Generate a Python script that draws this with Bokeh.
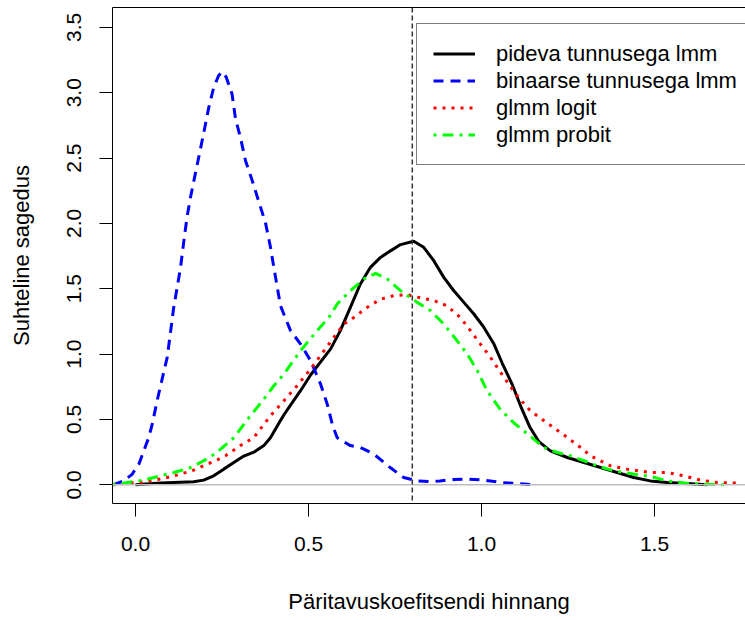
from bokeh.plotting import figure
from bokeh.models import (Range1d, FixedTicker, PrintfTickFormatter, Span, Legend,
                          LegendItem, LinearAxis)
from bokeh.embed import file_html
from bokeh.resources import INLINE

# ---- data ----
pideva_x = [0.0, 0.072, 0.168, 0.197, 0.226, 0.255, 0.284, 0.313, 0.342, 0.371, 0.39, 0.414,
            0.43, 0.448, 0.477, 0.506, 0.535, 0.564, 0.592, 0.621, 0.65, 0.679, 0.708, 0.737,
            0.766, 0.804, 0.833, 0.862, 0.891, 0.92, 0.949, 0.978, 1.007, 1.036, 1.06, 1.09,
            1.115, 1.14, 1.166, 1.199, 1.248, 1.296, 1.344, 1.392, 1.44, 1.488, 1.537, 1.594, 1.652]
pideva_y = [0.0, 0.013, 0.023, 0.036, 0.069, 0.12, 0.17, 0.22, 0.25, 0.30, 0.36, 0.47,
            0.54, 0.61, 0.72, 0.84, 0.94, 1.04, 1.18, 1.357, 1.537, 1.664, 1.74, 1.79,
            1.838, 1.863, 1.817, 1.715, 1.587, 1.485, 1.396, 1.307, 1.204, 1.077, 0.93, 0.76,
            0.59, 0.44, 0.33, 0.26, 0.209, 0.171, 0.132, 0.094, 0.056, 0.03, 0.018, 0.01, 0.0]

binaarse_x = [-0.066, -0.034, -0.01, 0.01, 0.024, 0.038, 0.048, 0.063, 0.092, 0.11, 0.13, 0.14,
              0.149, 0.159, 0.169, 0.183, 0.197, 0.212, 0.226, 0.24, 0.25, 0.262, 0.279, 0.289,
              0.303, 0.318, 0.337, 0.356, 0.376, 0.39, 0.40, 0.419, 0.448, 0.477, 0.506, 0.535,
              0.554, 0.57, 0.583, 0.621, 0.65, 0.689, 0.737, 0.775, 0.814, 0.85, 0.88, 0.92,
              0.959, 1.007, 1.055, 1.10, 1.15]
binaarse_y = [0.0, 0.03, 0.08, 0.16, 0.26, 0.36, 0.46, 0.65, 0.98, 1.35, 1.66, 1.87,
              2.05, 2.20, 2.33, 2.51, 2.69, 2.89, 3.04, 3.13, 3.16, 3.12, 2.99, 2.80,
              2.66, 2.48, 2.33, 2.17, 2.0, 1.82, 1.66, 1.37, 1.18, 1.077, 0.95, 0.77,
              0.618, 0.45, 0.36, 0.30, 0.286, 0.235, 0.13, 0.056, 0.03, 0.025, 0.03, 0.04,
              0.044, 0.036, 0.018, 0.01, 0.0]

logit_x = [-0.066, -0.014, 0.024, 0.072, 0.12, 0.168, 0.207, 0.236, 0.26, 0.303, 0.342, 0.39,
           0.429, 0.467, 0.506, 0.535, 0.573, 0.602, 0.631, 0.67, 0.708, 0.747, 0.785, 0.824,
           0.862, 0.9, 0.939, 0.968, 0.997, 1.026, 1.055, 1.084, 1.113, 1.14, 1.17, 1.199,
           1.248, 1.286, 1.315, 1.373, 1.421, 1.488, 1.537, 1.585, 1.633, 1.681, 1.745]
logit_y = [0.0, 0.015, 0.023, 0.044, 0.074, 0.112, 0.158, 0.19, 0.222, 0.30, 0.362, 0.528,
           0.643, 0.758, 0.886, 0.99, 1.128, 1.23, 1.28, 1.358, 1.42, 1.447, 1.455, 1.43,
           1.41, 1.37, 1.28, 1.18, 1.077, 0.975, 0.86, 0.75, 0.65, 0.57, 0.51, 0.455,
           0.362, 0.286, 0.222, 0.145, 0.12, 0.094, 0.094, 0.069, 0.036, 0.018, 0.013]

probit_x = [-0.066, -0.024, 0.024, 0.072, 0.111, 0.159, 0.188, 0.217, 0.246, 0.284, 0.332,
            0.371, 0.40, 0.429, 0.477, 0.525, 0.559, 0.583, 0.621, 0.66, 0.694, 0.727, 0.766,
            0.814, 0.853, 0.891, 0.93, 0.959, 0.988, 1.016, 1.055, 1.093, 1.122, 1.151, 1.18,
            1.219, 1.257, 1.296, 1.334, 1.382, 1.44, 1.488, 1.537, 1.585, 1.643, 1.70]
probit_y = [0.0, 0.018, 0.036, 0.069, 0.094, 0.132, 0.171, 0.214, 0.273, 0.36, 0.528,
            0.656, 0.758, 0.848, 1.026, 1.18, 1.28, 1.384, 1.485, 1.575, 1.618, 1.575, 1.485,
            1.396, 1.332, 1.23, 1.10, 1.0, 0.873, 0.72, 0.575, 0.475, 0.413, 0.35, 0.286,
            0.247, 0.222, 0.184, 0.145, 0.107, 0.082, 0.064, 0.03, 0.013, 0.005, 0.0]

series_names = ["pideva tunnusega lmm", "binaarse tunnusega lmm", "glmm logit", "glmm probit"]
x_ticks = [0.0, 0.5, 1.0, 1.5]
y_ticks = [0.0, 0.5, 1.0, 1.5, 2.0, 2.5, 3.0, 3.5]
reference_value = 0.8
x_title = "Päritavuskoefitsendi hinnang"
y_title = "Suhteline sagedus"

FONT = "Liberation Sans"

p = figure(width=745, height=620, output_backend="svg", toolbar_location=None,
           x_range=Range1d(-0.0665, 1.763), y_range=Range1d(-0.143, 3.652),
           min_border_left=112, min_border_right=0, min_border_top=7, min_border_bottom=117,
           background_fill_color="white", border_fill_color="white")
p.outline_line_color = None
p.xgrid.visible = False
p.ygrid.visible = False

for ax, ticks in ((p.xaxis[0], x_ticks), (p.yaxis[0], y_ticks)):
    ax.ticker = FixedTicker(ticks=ticks)
    ax.formatter = PrintfTickFormatter(format="%.1f")
    ax.major_tick_in = 0
    ax.major_tick_out = 13
    ax.minor_tick_out = 0
    ax.minor_tick_in = 0
    ax.major_tick_line_color = "black"
    ax.axis_line_color = "black"
    ax.major_label_text_font = FONT
    ax.major_label_text_font_size = "21px"
    ax.major_label_text_color = "black"
    ax.axis_label_text_font = FONT
    ax.axis_label_text_font_size = "22px"
    ax.axis_label_text_font_style = "normal"
    ax.axis_label_text_color = "black"

p.xaxis.axis_label = x_title
p.yaxis.axis_label = y_title
p.xaxis.major_label_standoff = 20
p.xaxis.axis_label_standoff = 35
p.yaxis.major_label_orientation = "vertical"
p.yaxis.major_label_standoff = 18
p.yaxis.axis_label_standoff = 31

top_axis = LinearAxis(ticker=FixedTicker(ticks=[]), major_tick_out=0, major_tick_in=0,
                      minor_tick_out=0, minor_tick_in=0, major_label_standoff=0,
                      major_label_text_font_size="0px", axis_line_color="black")
p.add_layout(top_axis, "above")

p.add_layout(Span(location=0, dimension="width", line_color="#bebebe", line_width=1.5))
p.add_layout(Span(location=reference_value, dimension="height", line_color="#333333",
                  line_width=1.5, line_dash="5 3"))

r1 = p.line(pideva_x, pideva_y, line_color="black", line_width=3)
r2 = p.line(binaarse_x, binaarse_y, line_color="#0000ff", line_width=3, line_dash="10 7")
r3 = p.line(logit_x, logit_y, line_color="#ff0000", line_width=3, line_dash="3 6")
r4 = p.line(probit_x, probit_y, line_color="#00ff00", line_width=3, line_dash="3 6 11 6")

legend = Legend(items=[LegendItem(label=n, renderers=[r]) for n, r in zip(series_names, [r1, r2, r3, r4])],
                location=(304, 338), padding=16, spacing=0, margin=0,
                label_height=27, glyph_height=27, glyph_width=42, label_standoff=21,
                label_text_font=FONT, label_text_font_size="22px", label_text_color="black",
                border_line_color="black", border_line_width=1,
                background_fill_color="white", background_fill_alpha=1.0)
p.add_layout(legend)

open("out.html", "w").write(file_html(p, INLINE))
